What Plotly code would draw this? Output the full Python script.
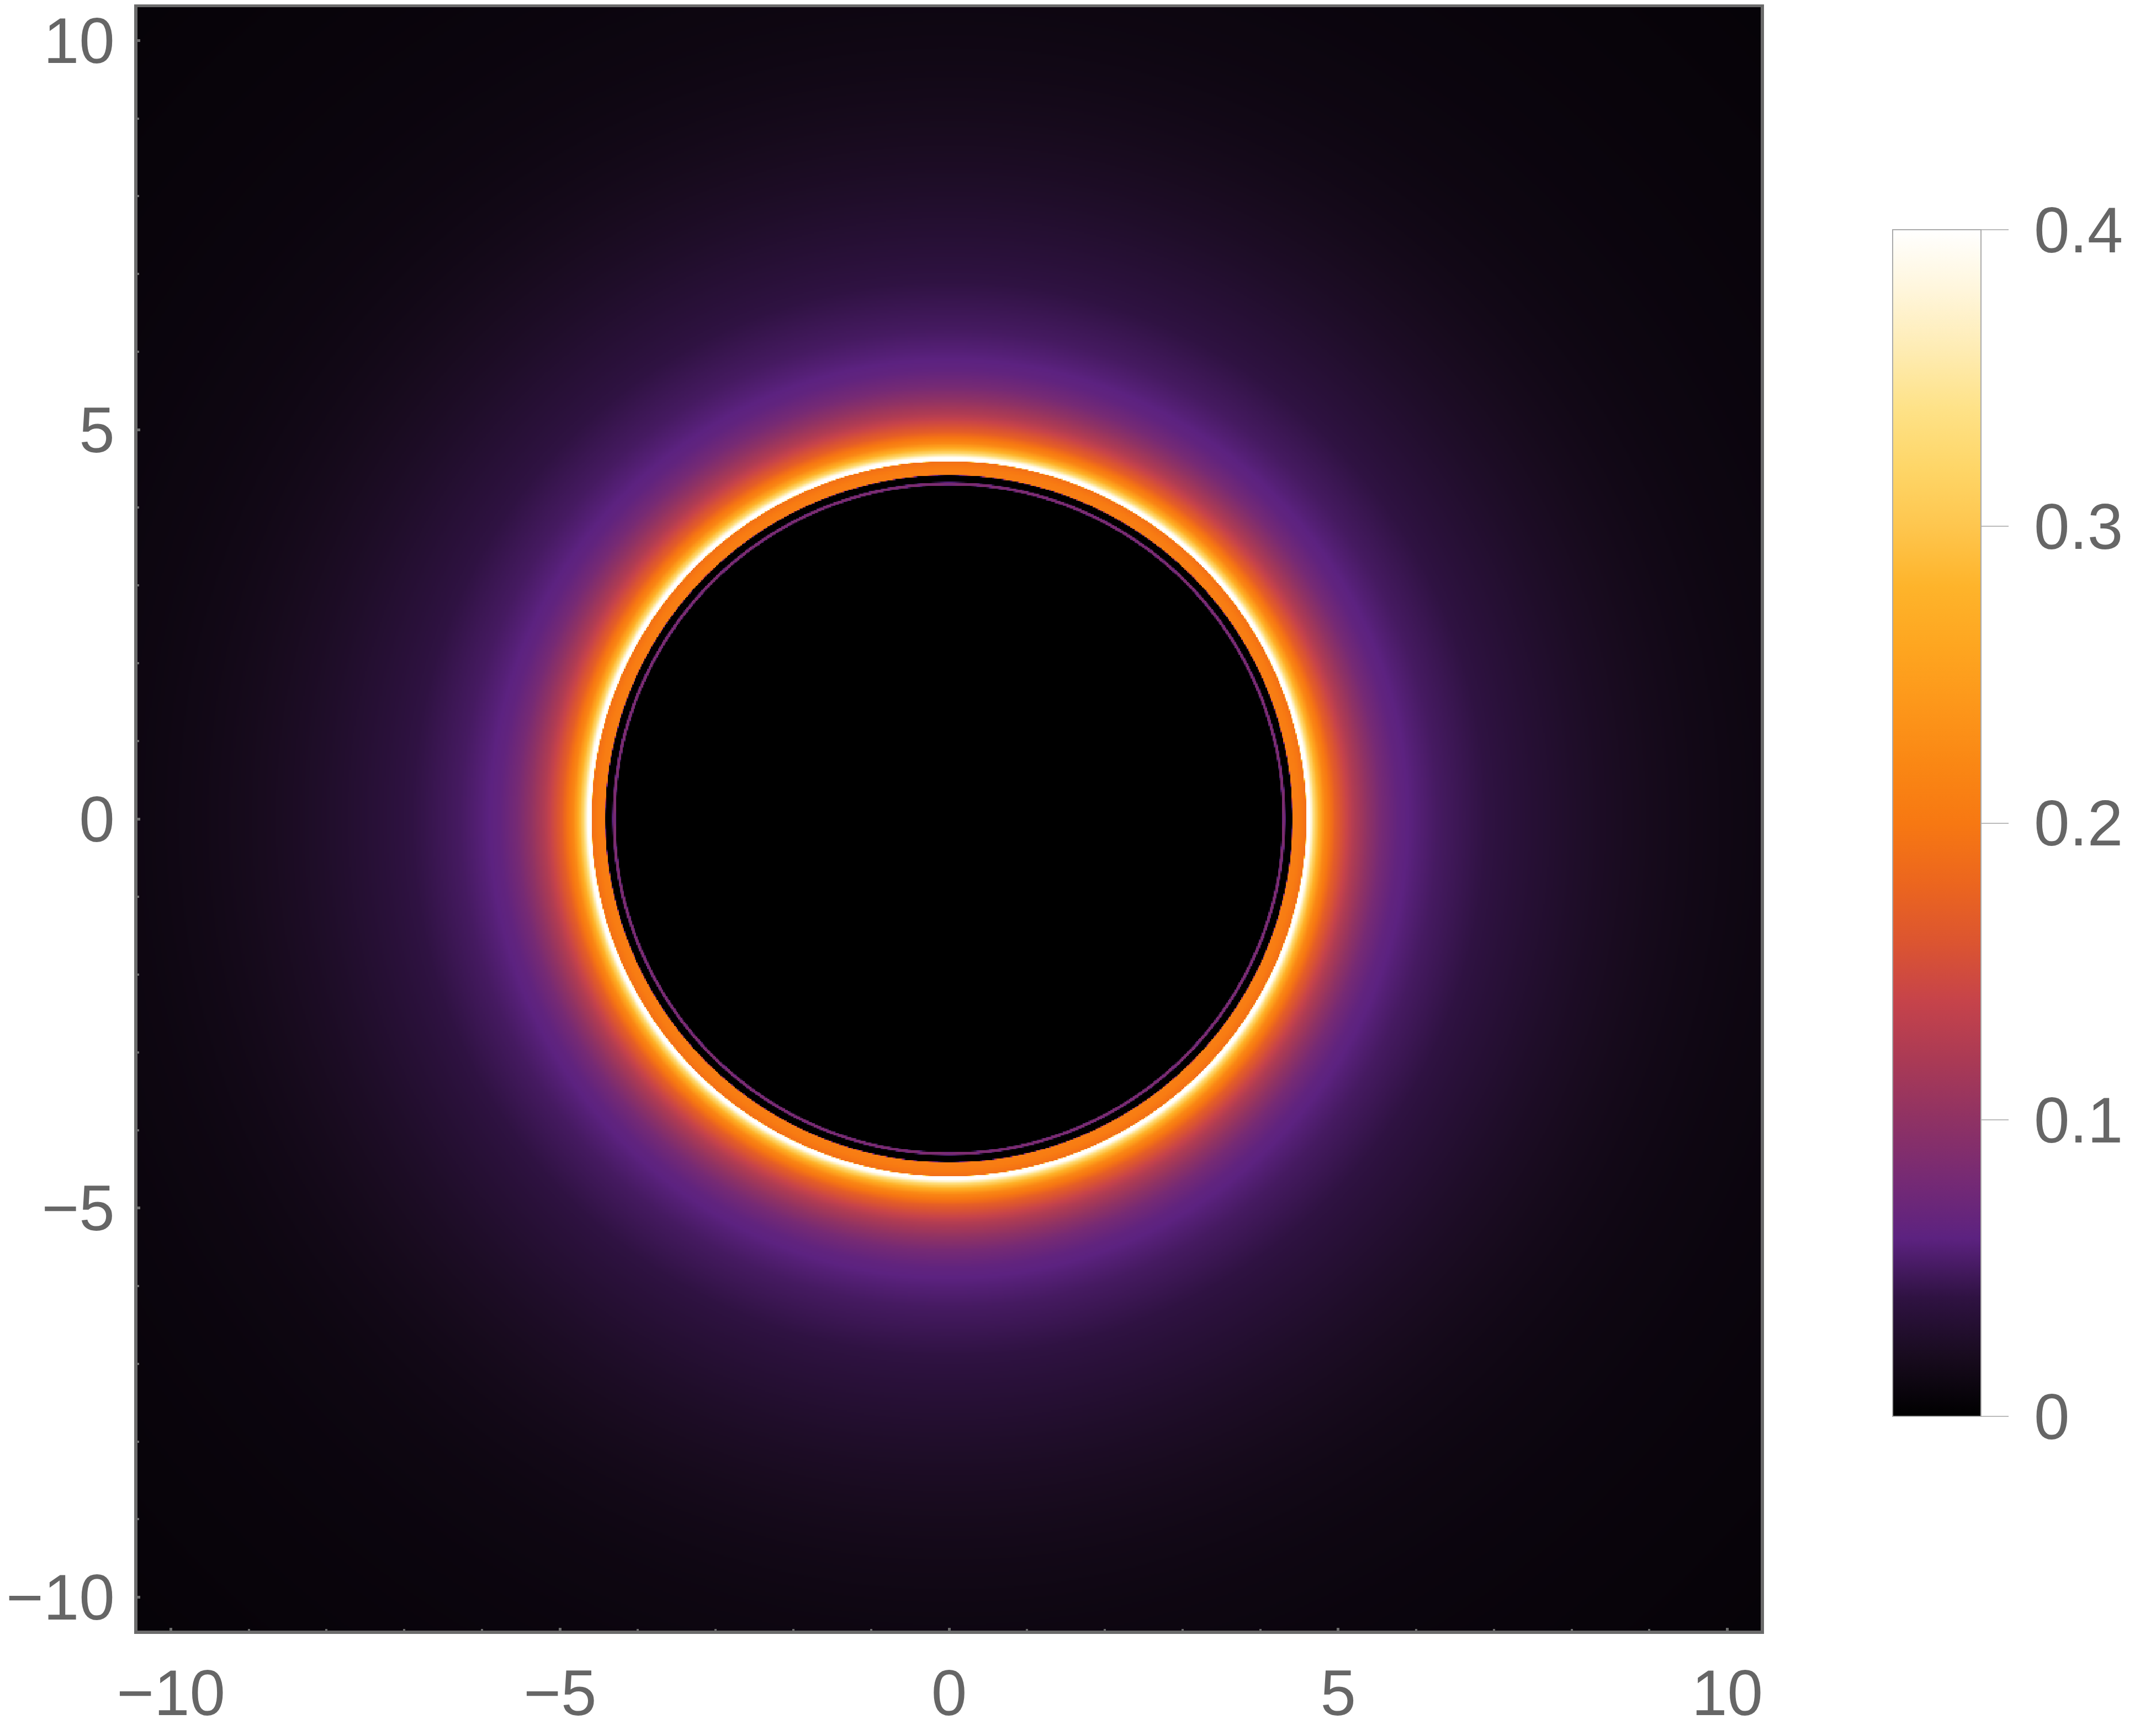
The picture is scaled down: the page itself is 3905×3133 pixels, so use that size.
import numpy as np
import plotly.graph_objects as go

# radial intensity profile (r in plot units, intensity)
ring_radius = [0.0, 4.28, 4.29, 4.32, 4.33, 4.41, 4.42, 4.50, 4.59, 4.60, 4.61, 4.63,
               4.64, 4.67, 4.70, 4.76, 4.83, 4.90, 4.97, 5.07, 5.20, 5.38, 5.55, 5.77,
               6.00, 6.28, 6.60, 6.91, 7.20, 7.54, 8.00, 8.32, 8.70, 9.10, 9.60, 10.28,
               11.5, 13.0, 14.8]
intensity = [0.0, 0.0, 0.085, 0.085, 0.0, 0.0, 0.21, 0.205, 0.19, 0.45, 0.45, 0.45,
             0.40, 0.36, 0.32, 0.27, 0.22, 0.195, 0.17, 0.15, 0.125, 0.10, 0.08, 0.064,
             0.057, 0.05, 0.045, 0.04, 0.036, 0.032, 0.027, 0.024, 0.021, 0.018, 0.015, 0.012,
             0.009, 0.007, 0.005]

# colour bar (Mathematica sunset-like gradient)
cbar_vals = [0.0, 0.02, 0.04, 0.06, 0.08, 0.10, 0.12, 0.14, 0.16, 0.18, 0.20,
             0.22, 0.24, 0.26, 0.28, 0.30, 0.32, 0.34, 0.36, 0.38, 0.40]
cbar_colors = ["#000000", "#180b1e", "#2f1242", "#5c2280", "#762a74", "#8f3264",
               "#aa3a55", "#c6434a", "#dc5530", "#ec661e", "#f77812", "#fa8714",
               "#fd971a", "#fea620", "#feb42b", "#fec64e", "#fed668", "#fee288",
               "#feecb4", "#fff6dc", "#ffffff"]
cbar_ticks = [0, 0.1, 0.2, 0.3, 0.4]
cbar_ticktext = ["0", "0.1", "0.2", "0.3", "0.4"]
axis_ticks = [-10, -5, 0, 5, 10]

span = 10.43
n = 1200
grid = np.linspace(-span, span, n)
xx, yy = np.meshgrid(grid, grid)
rr = np.sqrt(xx ** 2 + yy ** 2)
z = np.interp(rr, ring_radius, intensity).astype(np.float32)

zmax = cbar_vals[-1]
colorscale = [[v / zmax, c] for v, c in zip(cbar_vals, cbar_colors)]

grey = "#666666"
frame = "#6b6b6b"
tickfont = dict(family="Liberation Sans, Arial", size=116, color=grey)

cbar_common = dict(
    lenmode="pixels", len=2149, thicknessmode="pixels", thickness=160,
    x=1.0812, xanchor="left", y=0.4974, yanchor="middle", xpad=0, ypad=0,
    outlinewidth=2, outlinecolor="#aaaaaa",
)

fig = go.Figure()

# minor colorbar ticks (drawn by a second, empty heatmap)
fig.add_trace(go.Heatmap(
    z=[[None]], x=[0], y=[0], colorscale=colorscale, zmin=0, zmax=zmax,
    hoverinfo="skip",
    colorbar=dict(
        cbar_common,
        tickvals=[v for v in cbar_vals if round(v * 10, 6) % 1 != 0],
        ticks="outside", ticklen=30, tickwidth=2, tickcolor="#bbbbbb",
        showticklabels=False,
    ),
))

fig.add_trace(go.Heatmap(
    z=z, x=grid, y=grid, colorscale=colorscale, zmin=0, zmax=zmax,
    zsmooth=False, hoverinfo="skip",
    colorbar=dict(
        cbar_common,
        tickvals=cbar_ticks, ticktext=["\u2009" + t for t in cbar_ticktext],
        ticks="outside", ticklen=49, tickwidth=2, tickcolor="#bbbbbb",
        tickfont=tickfont,
    ),
))

axis_style = dict(
    range=[-span, span], tickvals=axis_ticks, ticks="inside", ticklen=5,
    tickwidth=5, tickcolor=frame, tickfont=tickfont,
    showline=True, linewidth=6, linecolor=frame, mirror=True,
    showgrid=False, zeroline=False, automargin=False,
    minor=dict(ticks="inside", ticklen=3, tickwidth=4, tickcolor=frame, dtick=1),
)

# page body has an 8px margin, so shift the figure up/left by that much
fig.update_layout(
    width=3905, height=3133,
    margin=dict(l=241, r=724, t=5, b=188, autoexpand=False),
    paper_bgcolor="white", plot_bgcolor="black",
    xaxis=dict(axis_style, ticklabelstandoff=8),
    yaxis=dict(axis_style, ticklabelstandoff=12),
    showlegend=False,
)

fig.write_html("out.html")
